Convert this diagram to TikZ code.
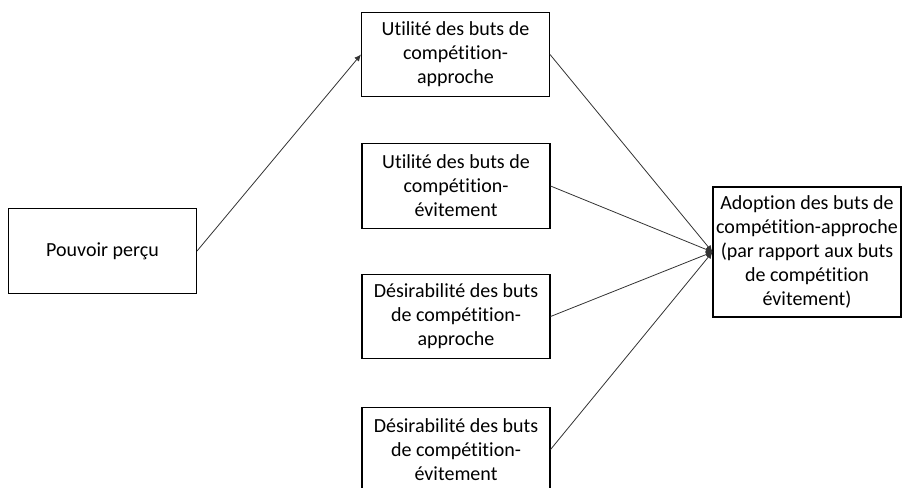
\documentclass[tikz,border=0pt]{standalone}
\usepackage{fontspec}
\setmainfont{Carlito}[Ligatures=NoCommon]
\usetikzlibrary{arrows.meta}
\tikzset{
  box/.style={draw, line width=0.8pt, align=center, inner sep=0pt,
    minimum width=141pt, minimum height=63.5pt, font=\fontsize{15}{18}\selectfont},
  link/.style={draw=black!80, line width=0.6pt, -{Latex[length=5pt,width=4.5pt]}}
}
\begin{document}
\begin{tikzpicture}[x=0.75pt,y=-0.75pt]
\useasboundingbox (0,0) rectangle (903,487);
% boxes
\node[box] (pouvoir) at (102.5,251) {Pouvoir perçu};
\node[box] (utilapp) at (455.5,54.5) {Utilité des buts de\\compétition-\\approche};
\node[box] (utilevi) at (456,186) {Utilité des buts de\\compétition-\\évitement};
\node[box] (desirapp) at (456,316.5) {Désirabilité des buts\\de compétition-\\approche};
\node[box] (desirevi) at (456,449.5) {Désirabilité des buts\\de compétition-\\évitement};
\node[box, minimum height=97.5pt] (adoption) at (807,252)
  {Adoption des buts de\\compétition-approche\\(par rapport aux buts\\de compétition\\évitement)};
% arrows
\draw[link] (pouvoir.east) -- (utilapp.west);
\foreach \n in {utilapp,utilevi,desirapp,desirevi}
  \draw[link] (\n.east) -- (adoption.west);
\end{tikzpicture}
\end{document}
